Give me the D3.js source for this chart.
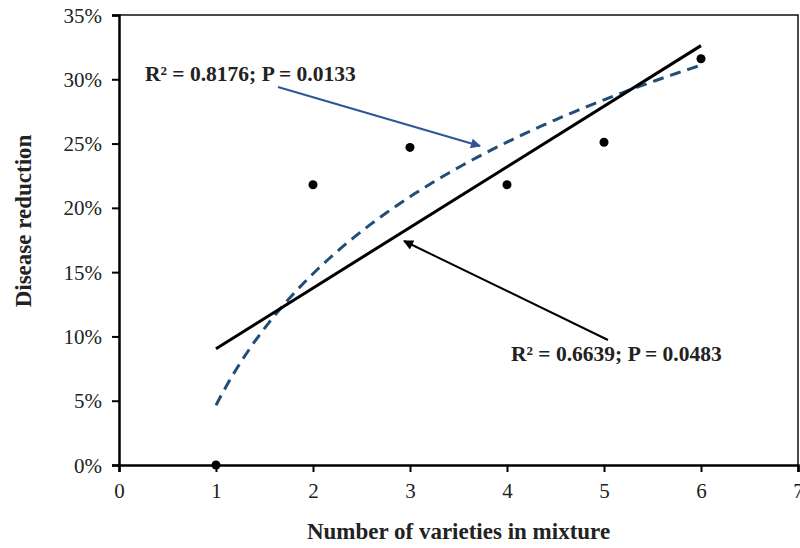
<!DOCTYPE html>
<html>
<head>
<meta charset="utf-8">
<script src="https://cdn.jsdelivr.net/npm/d3@7"></script>
<style>
  body { margin: 0; background: #fff; }
  svg text { font-family: "Liberation Serif", "Times New Roman", serif; fill: #222; }
</style>
</head>
<body>
<svg id="chart" width="800" height="548"></svg>
<script>
// observed values: number of varieties vs disease reduction (fraction)
const varieties = [1, 2, 3, 4, 5, 6];
const reduction = [0.0, 0.218, 0.247, 0.218, 0.251, 0.316];
const xTicks = [0, 1, 2, 3, 4, 5, 6, 7];
const yTicks = [0, 0.05, 0.10, 0.15, 0.20, 0.25, 0.30, 0.35];
const logLabel = 'R² = 0.8176; P = 0.0133';
const linLabel = 'R² = 0.6639; P = 0.0483';

const svg = d3.select('#chart');
const margin = { top: 15, right: 2, bottom: 83, left: 119 };
const width = 800 - margin.left - margin.right;
const height = 548 - margin.top - margin.bottom;

const x = d3.scaleLinear().domain([0, 7]).range([margin.left, margin.left + width]);
const y = d3.scaleLinear().domain([0, 0.35]).range([margin.top + height, margin.top]);

// least squares fits (Excel-style trendlines)
function fit(xs, ys) {
    const mx = d3.mean(xs), my = d3.mean(ys);
    const b = d3.sum(xs, (v, i) => (v - mx) * (ys[i] - my)) / d3.sum(xs, v => (v - mx) ** 2);
    return { a: my - b * mx, b };
}
const lin = fit(varieties, reduction);
const lg = fit(varieties.map(Math.log), reduction);

// frame (top and right)
svg.append('path')
    .attr('d', `M${x(0)},${y(0.35)}H${x(7)}V${y(0)}`)
    .attr('fill', 'none').attr('stroke', '#111').attr('stroke-width', 1.5);

// axes
const xAxis = svg.append('g')
    .attr('transform', `translate(0,${y(0)})`)
    .call(d3.axisBottom(x).tickValues(xTicks).tickSize(7).tickFormat(d3.format('d')));
const yAxis = svg.append('g')
    .attr('transform', `translate(${x(0)},0)`)
    .call(d3.axisLeft(y).tickValues(yTicks).tickSize(7).tickFormat(d3.format('.0%')));

[xAxis, yAxis].forEach(g => {
    g.attr('font-size', 21).attr('font-family', '"Liberation Serif", serif');
    g.select('.domain').attr('stroke', '#000').attr('stroke-width', 2.5);
    g.selectAll('.tick line').attr('stroke', '#000').attr('stroke-width', 2);
    g.selectAll('.tick text').attr('fill', '#333');
});
xAxis.selectAll('.tick text').attr('y', 33).attr('dy', 0);
yAxis.selectAll('.tick text').attr('x', -17).attr('dy', '0.34em');

// trend lines
const xs = d3.range(1, 6.0001, 0.05);
svg.append('path')
    .datum(xs)
    .attr('fill', 'none').attr('stroke', '#1f4e79').attr('stroke-width', 3)
    .attr('stroke-dasharray', '11,7')
    .attr('d', d3.line().x(d => x(d)).y(d => y(lg.a + lg.b * Math.log(d))));

svg.append('path')
    .datum([1, 6])
    .attr('fill', 'none').attr('stroke', '#000').attr('stroke-width', 3)
    .attr('d', d3.line().x(d => x(d)).y(d => y(lin.a + lin.b * d)));

// points
svg.selectAll('.pt').data(varieties).enter().append('circle')
    .attr('class', 'pt')
    .attr('cx', d => x(d))
    .attr('cy', (d, i) => y(reduction[i]))
    .attr('r', 4.5).attr('fill', '#000');

// arrows
const defs = svg.append('defs');
function marker(id, color) {
    defs.append('marker').attr('id', id)
        .attr('viewBox', '0 0 10 10').attr('refX', 9).attr('refY', 5)
        .attr('markerWidth', 6).attr('markerHeight', 5).attr('orient', 'auto')
        .attr('markerUnits', 'strokeWidth')
        .append('path').attr('d', 'M0,0L10,5L0,10z').attr('fill', color);
}
marker('ab', '#2f5597');
marker('ak', '#000');

svg.append('line')
    .attr('x1', 278).attr('y1', 87).attr('x2', 480).attr('y2', 146)
    .attr('stroke', '#2f5597').attr('stroke-width', 2).attr('marker-end', 'url(#ab)');
svg.append('line')
    .attr('x1', 608).attr('y1', 340).attr('x2', 404).attr('y2', 241)
    .attr('stroke', '#000').attr('stroke-width', 2).attr('marker-end', 'url(#ak)');

// annotation labels
svg.append('text').attr('x', 145).attr('y', 81)
    .attr('font-size', 21.5).attr('font-weight', 'bold').text(logLabel);
svg.append('text').attr('x', 511).attr('y', 361)
    .attr('font-size', 21.5).attr('font-weight', 'bold').text(linLabel);

// axis titles
svg.append('text')
    .attr('x', x(3.5)).attr('y', 539)
    .attr('text-anchor', 'middle').attr('font-size', 23).attr('font-weight', 'bold')
    .text('Number of varieties in mixture');
svg.append('text')
    .attr('transform', `translate(31,221) rotate(-90)`)
    .attr('text-anchor', 'middle').attr('font-size', 23).attr('font-weight', 'bold')
    .text('Disease reduction');
</script>
</body>
</html>
